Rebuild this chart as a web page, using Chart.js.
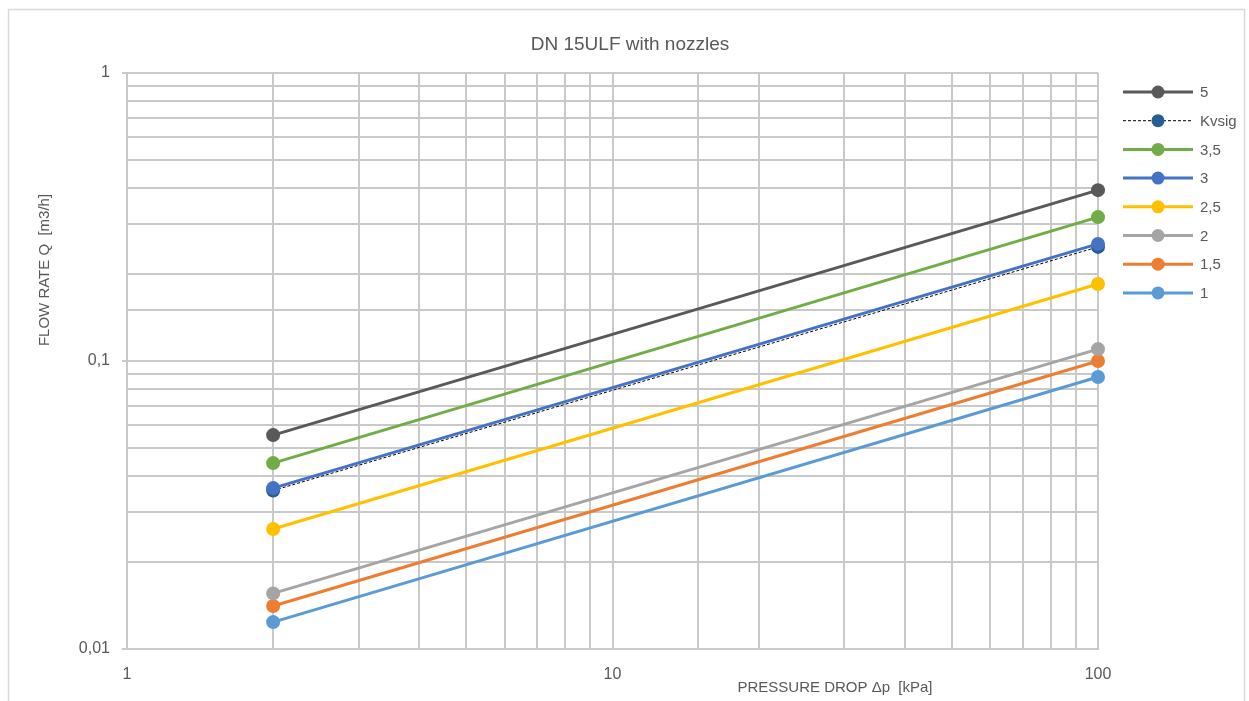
<!DOCTYPE html>
<html>
<head>
<meta charset="utf-8">
<script src="https://cdn.jsdelivr.net/npm/chart.js@4.4.1/dist/chart.umd.min.js"></script>
<style>
    html, body { margin: 0; padding: 0; background: #ffffff; }
    #wrap { width: 1249px; height: 701px; }
</style>
</head>
<body>
<div id="wrap"><canvas id="flowChart"></canvas></div>
<script>
// 圧力損失 [kPa]
const pressureDrop = [2, 100];

// 系列名と流量 [m3/h]
const seriesNames  = ['5', 'Kvsig', '3,5', '3', '2,5', '2', '1,5', '1'];
const flow5        = [0.0553, 0.392];
const flowKvsig    = [0.0355, 0.249];
const flow35       = [0.0442, 0.316];
const flow3        = [0.0362, 0.255];
const flow25       = [0.0261, 0.185];
const flow2        = [0.0156, 0.110];
const flow15       = [0.0141, 0.100];
const flow1        = [0.0124, 0.088];

// 軸の目盛りラベル
const xTickLabels = [1, 10, 100];
const yTickLabels = [0.01, 0.1, 1];

const FONT = '"Liberation Sans", Arial, sans-serif';
const TEXT_COLOR = '#595959';
const GRID_COLOR = '#c9c9c9';

// 系列ごとの見た目
const seriesStyles = [
    { color: '#595959', point: '#595959', dash: [],     width: 3 },
    { color: '#000000', point: '#255e91', dash: [3, 2], width: 1 },
    { color: '#70ad47', point: '#70ad47', dash: [],     width: 3 },
    { color: '#4472c4', point: '#4472c4', dash: [],     width: 3 },
    { color: '#ffc000', point: '#ffc000', dash: [],     width: 3 },
    { color: '#a5a5a5', point: '#a5a5a5', dash: [],     width: 3 },
    { color: '#ed7d31', point: '#ed7d31', dash: [],     width: 3 },
    { color: '#5b9bd5', point: '#5b9bd5', dash: [],     width: 3 }
];
const seriesValues = [flow5, flowKvsig, flow35, flow3, flow25, flow2, flow15, flow1];

function toPoints(values) {
    return pressureDrop.map(function(p, i) {
        return { x: p, y: values[i] };
    });
}

const datasets = seriesNames.map(function(name, i) {
    const s = seriesStyles[i];
    return {
        label: name,
        data: toPoints(seriesValues[i]),
        borderColor: s.color,
        borderWidth: s.width,
        borderDash: s.dash,
        pointBackgroundColor: s.point,
        pointBorderColor: s.point,
        pointRadius: 7,
        pointBorderWidth: 0,
        clip: false,
        order: name === 'Kvsig' ? 1 : 0
    };
});

function isDecade(v, list) {
    return list.some(function(t) { return Math.abs(t - v) < t * 1e-6; });
}

// 枠線・タイトル・軸タイトル・凡例を描く
const decorPlugin = {
    id: 'decor',
    beforeDraw: function(chart) {
        const ctx = chart.ctx;
        ctx.save();
        ctx.fillStyle = '#ffffff';
        ctx.fillRect(0, 0, chart.width, chart.height);
        ctx.strokeStyle = '#d9d9d9';
        ctx.lineWidth = 1.5;
        ctx.strokeRect(8.5, 9.5, 1236, 720);
        ctx.restore();
    },
    afterDraw: function(chart) {
        const ctx = chart.ctx;
        const area = chart.chartArea;
        ctx.save();
        ctx.fillStyle = TEXT_COLOR;
        ctx.textAlign = 'center';
        ctx.textBaseline = 'middle';

        ctx.font = '19px ' + FONT;
        ctx.fillText('DN 15ULF with nozzles', 630, 45);

        ctx.font = '15px ' + FONT;
        ctx.fillText('PRESSURE DROP \u0394p  [kPa]', 835, 688);

        ctx.save();
        ctx.translate(45, 270);
        ctx.rotate(-Math.PI / 2);
        ctx.fillText('FLOW RATE Q  [m3/h]', 0, 0);
        ctx.restore();

        // 凡例
        const lx = area.right + 25;
        chart.data.datasets.forEach(function(ds, i) {
            const y = area.top + 19 + i * 28.7;
            ctx.save();
            ctx.strokeStyle = ds.borderColor;
            ctx.lineWidth = ds.borderWidth;
            ctx.setLineDash(ds.borderDash);
            ctx.beginPath();
            ctx.moveTo(lx, y);
            ctx.lineTo(lx + 70, y);
            ctx.stroke();
            ctx.setLineDash([]);
            ctx.fillStyle = ds.pointBackgroundColor;
            ctx.beginPath();
            ctx.arc(lx + 35, y, 6.5, 0, Math.PI * 2);
            ctx.fill();
            ctx.restore();
            ctx.textAlign = 'left';
            ctx.font = '15px ' + FONT;
            ctx.fillText(ds.label, lx + 77, y + 1);
        });
        ctx.restore();
    }
};

const chartCtx = document.getElementById('flowChart').getContext('2d');
const flowChart = new Chart(chartCtx, {
    type: 'line',
    data: { datasets: datasets },
    options: {
        responsive: true,
        maintainAspectRatio: false,
        animation: false,
        layout: {
            padding: { left: 0, right: 151, top: 73, bottom: 0 }
        },
        plugins: {
            legend: { display: false },
            title: { display: false },
            tooltip: { enabled: false }
        },
        scales: {
            x: {
                type: 'logarithmic',
                min: 1,
                max: 100,
                afterFit: function(scale) { scale.height = 52; },
                border: { color: GRID_COLOR, width: 2 },
                grid: { color: GRID_COLOR, lineWidth: 2, drawTicks: false },
                ticks: {
                    autoSkip: false,
                    maxRotation: 0,
                    padding: 16,
                    color: TEXT_COLOR,
                    font: { family: FONT, size: 16 },
                    callback: function(v) {
                        return isDecade(v, xTickLabels) ? String(v) : '';
                    }
                }
            },
            y: {
                type: 'logarithmic',
                min: 0.01,
                max: 1,
                afterFit: function(scale) { scale.width = 127; },
                border: { color: GRID_COLOR, width: 2 },
                grid: {
                    color: GRID_COLOR,
                    lineWidth: 2,
                    tickLength: 5,
                    tickColor: function(c) {
                        return c.tick && isDecade(c.tick.value, yTickLabels) ? GRID_COLOR : 'rgba(0,0,0,0)';
                    }
                },
                ticks: {
                    autoSkip: false,
                    padding: 12,
                    color: TEXT_COLOR,
                    font: { family: FONT, size: 16 },
                    callback: function(v) {
                        return isDecade(v, yTickLabels) ? String(v).replace('.', ',') : '';
                    }
                }
            }
        }
    },
    plugins: [decorPlugin]
});
</script>
</body>
</html>
